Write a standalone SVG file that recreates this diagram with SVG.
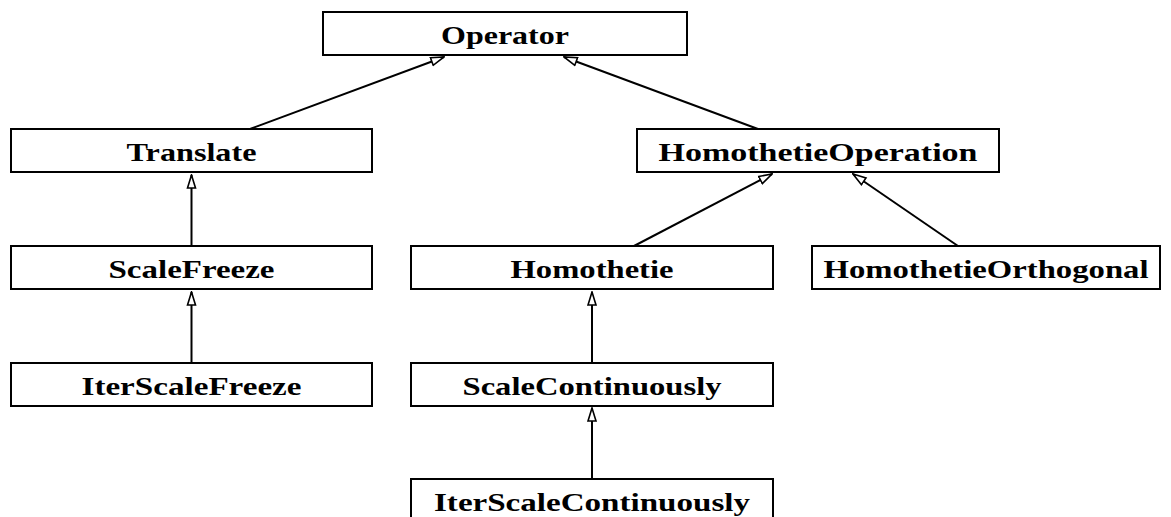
<svg xmlns="http://www.w3.org/2000/svg" width="1171" height="517" viewBox="0 0 1171 517">
<style>
.box{fill:#fff;stroke:#000;stroke-width:2}
.lbl{font-family:"Liberation Serif","Times New Roman",serif;font-weight:bold;font-size:25px;fill:#000;text-anchor:middle}
.edge{stroke:#000;stroke-width:2;fill:none;marker-end:url(#tri)}
</style>
<defs>
<marker id="tri" markerUnits="userSpaceOnUse" viewBox="-1 -1 15 11" markerWidth="15" markerHeight="11" refX="13" refY="4.5" orient="auto">
<path d="M0,0.5 L13,4.5 L0,8.5 Z" fill="#fff" stroke="#000" stroke-width="1.6"/>
</marker>
</defs>
<rect width="1171" height="517" fill="#fff"/>
<g id="connectors">
<line class="edge" x1="250" y1="129" x2="444" y2="57"/>
<line class="edge" x1="758" y1="129" x2="564" y2="57"/>
<line class="edge" x1="191.5" y1="246" x2="191.5" y2="175"/>
<line class="edge" x1="191.5" y1="363" x2="191.5" y2="292"/>
<line class="edge" x1="634" y1="246" x2="772" y2="174"/>
<line class="edge" x1="958" y1="246" x2="853" y2="174"/>
<line class="edge" x1="592" y1="363" x2="592" y2="292"/>
<line class="edge" x1="592" y1="479" x2="592" y2="408"/>
</g>
<g id="Operator"><rect class="box" x="323" y="12" width="364" height="43"/><text class="lbl" x="505" y="44" textLength="128" lengthAdjust="spacingAndGlyphs">Operator</text></g>
<g id="Translate"><rect class="box" x="11" y="129" width="361" height="43"/><text class="lbl" x="191.5" y="161" textLength="130" lengthAdjust="spacingAndGlyphs">Translate</text></g>
<g id="HomothetieOperation"><rect class="box" x="637" y="129" width="362" height="43"/><text class="lbl" x="818" y="161" textLength="319" lengthAdjust="spacingAndGlyphs">HomothetieOperation</text></g>
<g id="ScaleFreeze"><rect class="box" x="11" y="246" width="361" height="43"/><text class="lbl" x="191.5" y="278" textLength="166" lengthAdjust="spacingAndGlyphs">ScaleFreeze</text></g>
<g id="Homothetie"><rect class="box" x="411" y="246" width="362" height="43"/><text class="lbl" x="592" y="278" textLength="163" lengthAdjust="spacingAndGlyphs">Homothetie</text></g>
<g id="HomothetieOrthogonal"><rect class="box" x="812" y="246" width="348" height="43"/><text class="lbl" x="986" y="278" textLength="325" lengthAdjust="spacingAndGlyphs">HomothetieOrthogonal</text></g>
<g id="IterScaleFreeze"><rect class="box" x="11" y="363" width="361" height="43"/><text class="lbl" x="191.5" y="395" textLength="220" lengthAdjust="spacingAndGlyphs">IterScaleFreeze</text></g>
<g id="ScaleContinuously"><rect class="box" x="411" y="363" width="362" height="43"/><text class="lbl" x="592" y="395" textLength="259" lengthAdjust="spacingAndGlyphs">ScaleContinuously</text></g>
<g id="IterScaleContinuously"><rect class="box" x="411" y="479" width="362" height="43"/><text class="lbl" x="592" y="511" textLength="316" lengthAdjust="spacingAndGlyphs">IterScaleContinuously</text></g>
</svg>
